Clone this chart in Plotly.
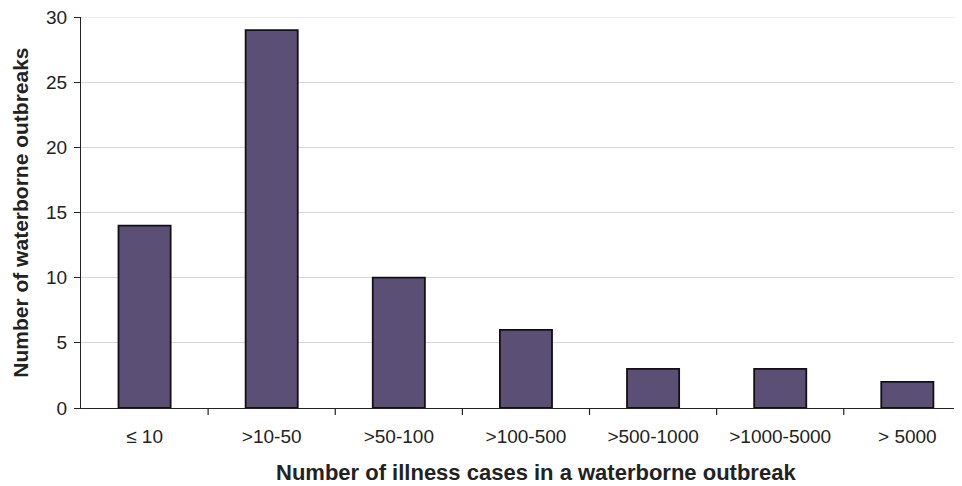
import plotly.graph_objects as go

categories = ["≤ 10", ">10-50", ">50-100", ">100-500", ">500-1000", ">1000-5000", "> 5000"]
outbreaks = [14, 29, 10, 6, 3, 3, 2]
y_ticks = [0, 5, 10, 15, 20, 25, 30]

FONT = "Liberation Sans, Arial, sans-serif"

fig = go.Figure(go.Bar(
    x=list(range(len(categories))),
    y=outbreaks,
    marker=dict(color="#5b4f75", line=dict(color="#111111", width=1.8)),
    width=0.41,
))

fig.update_layout(
    width=954, height=478,
    margin=dict(l=73, r=0, t=9, b=78),
    paper_bgcolor="white", plot_bgcolor="white",
    showlegend=False,
    font=dict(family=FONT, color="#222222"),
    xaxis=dict(
        tickmode="array",
        tickvals=list(range(len(categories))),
        ticktext=categories,
        range=[-0.5, 6.43],
        showgrid=False,
        showline=True, linecolor="#222222", linewidth=1.2,
        ticks="", tickfont=dict(size=19),
        ticklabelstandoff=11,
        zeroline=False,
    ),
    yaxis=dict(
        range=[0, 30],
        tickvals=y_ticks,
        showgrid=True, gridcolor="#d6d6d6", gridwidth=1,
        showline=True, linecolor="#222222", linewidth=1.2,
        ticks="outside", ticklen=6, tickcolor="#222222",
        tickfont=dict(size=19),
        ticklabelstandoff=3,
        ticklabeloverflow="allow",
        zeroline=False,
    ),
)

fig.add_annotation(text="<b>Number of illness cases in a waterborne outbreak</b>",
                   xref="paper", yref="paper", x=0.516, y=-0.166,
                   xanchor="center", yanchor="middle", showarrow=False,
                   font=dict(size=22, family=FONT, color="#222222"))
fig.add_annotation(text="<b>Number of waterborne outbreaks</b>",
                   xref="paper", yref="paper", x=-0.069, y=0.50,
                   xanchor="center", yanchor="middle", showarrow=False, textangle=-90,
                   font=dict(size=21, family=FONT, color="#222222"))

# top gridline at the upper end of the y range
fig.add_shape(type="line", xref="paper", yref="y", x0=0, x1=1,
              y0=y_ticks[-1], y1=y_ticks[-1], layer="below",
              line=dict(color="#d6d6d6", width=1))

# category boundary tick marks on the x axis
for b in range(1, len(categories)):
    fig.add_shape(type="line", xref="x", yref="paper",
                  x0=b - 0.5, x1=b - 0.5, y0=0, y1=-0.018,
                  line=dict(color="#222222", width=1.2))

fig.write_html("out.html")
